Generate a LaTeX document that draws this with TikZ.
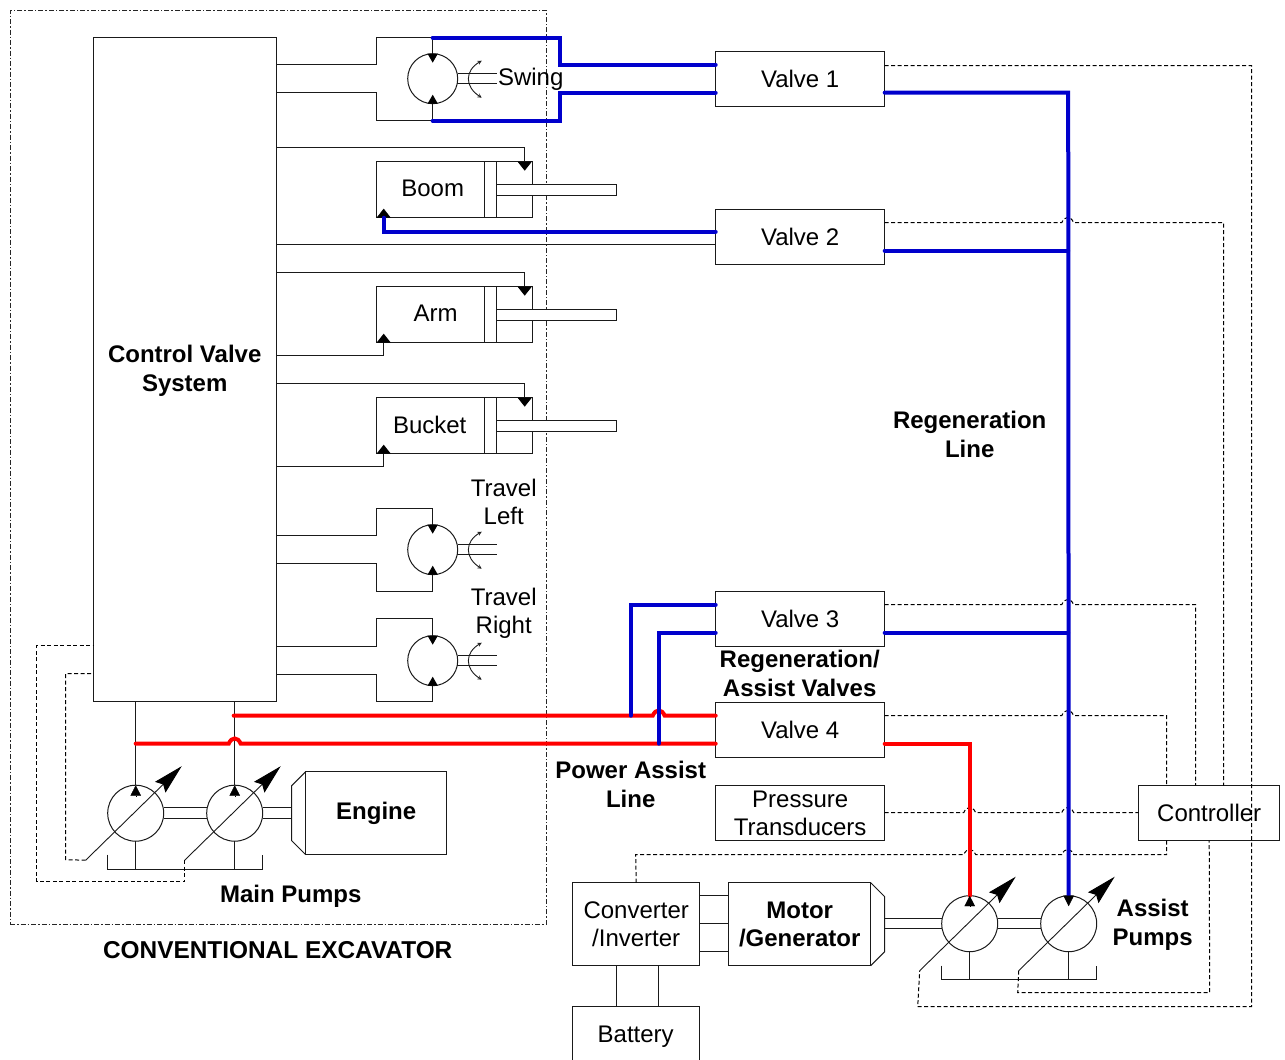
\documentclass[tikz,border=0pt]{standalone}
\usepackage{fontspec}
\usepackage{xcolor}
\usepackage{tikz}
\usetikzlibrary{arrows.meta}
\setmainfont{Liberation Sans}
\definecolor{regen}{HTML}{0000CC}
\definecolor{assist}{HTML}{FF0000}
\definecolor{wire}{HTML}{1A1A1A}
\newcommand{\hopx}[2]{-- (#1-6,#2) .. controls (#1-3,#2-7) and (#1+3,#2-7) .. (#1+6,#2)}
\tikzset{
  box/.style={draw=wire,line width=1pt,anchor=north west,inner sep=0pt,outer sep=0pt,align=center},
  tag/.style={inner sep=0pt,align=center},
  bold/.style={tag,font=\fontsize{24}{29}\selectfont\bfseries},
  wheel/.style={draw=wire,line width=1pt,circle,inner sep=0pt,outer sep=0pt,fill=white},
  pipe/.style={draw=wire,line width=1pt},
  ctl/.style={draw=black,line width=1pt,dash pattern=on 4pt off 2.5pt},
  edge frame/.style={draw=black!85,line width=1pt,dash pattern=on 5pt off 2pt on 1.5pt off 2pt},
  blueline/.style={regen,line width=4pt,line cap=round},
  redline/.style={assist,line width=4pt,line cap=round},
  tiny tip/.style={-{Triangle[length=9pt,width=10pt,black]}},
  wide tip/.style={-{Triangle[length=9pt,width=14pt,black]}},
  pump tip/.style={-{Triangle[length=10.5pt,width=10.5pt,black]}},
}
\begin{document}
\begin{tikzpicture}[x=1pt,y=-1pt,>=stealth,font=\fontsize{24}{28}\selectfont]
\clip (0,0) rectangle (1285,1060);
\fill[white] (0,0) rectangle (1285,1060);
\begin{scope}[shift={(-0.3,-0.3)}]
\node[edge frame,anchor=north west,inner sep=0pt,minimum width=536,minimum height=914] (excavator) at (10,10) {};
\node[box,minimum width=183,minimum height=664] (ctrl) at (94,38) {};
\node[bold] (ctrltext) at (185,371) {Control Valve\\System};
\foreach \n/\y in {1/52,2/210,3/592,4/703}
  \node[box,minimum width=169,minimum height=55] (valve\n) at (716,\y) {\raisebox{1.4pt}{Valve \n}};
\node[box,minimum width=169,minimum height=55] (press) at (716,786) {Pressure\\Transducers};
\node[box,minimum width=141,minimum height=55] (controller) at (1139,786) {\raisebox{1.4pt}{Controller}};
\node[box,minimum width=127,minimum height=83] (conv) at (573,883) {Converter\\/Inverter};
\node[box,minimum width=142,minimum height=83,font=\fontsize{24}{28}\selectfont\bfseries] (motor) at (729,883) {Motor\\/Generator};
\node[box,minimum width=127,minimum height=66] (batt) at (573,1007) {};
\node[tag] (batttext) at (636,1037) {Battery};
\node[box,minimum width=141,minimum height=83,font=\fontsize{24}{28}\selectfont\bfseries] (engine) at (306,772) {\raisebox{-2pt}{Engine}};
\draw[pipe] (engine.north west) -- (292,786) -- (292,841) -- (engine.south west);
\draw[pipe] (motor.north east) -- (885,897) -- (885,952) -- (motor.south east);
\foreach \y in {896,924,952} \draw[pipe] (conv.east |- 0,\y) -- (motor.west |- 0,\y);
\foreach \x in {617,659} \draw[pipe] (\x,966) -- (\x,1007);
% cylinders
\foreach \n/\y/\l/\t in {boom/162/433/Boom,arm/287/436/Arm,bucket/398/430/Bucket} {
  \node[box,minimum width=156,minimum height=56] (\n) at (377,\y) {};
  \node[tag] (\n text) at (\l,\y+27) {\t};
  \draw[pipe] (485,\y) rectangle (497,\y+56);
  \draw[pipe,fill=white] (497,\y+23) rectangle (617,\y+34);
}
\draw[pipe,wide tip] (ctrl.east |- 0,148) -- (525,148) -- (525,171);
\draw[pipe,wide tip] (ctrl.east |- 0,273) -- (525,273) -- (525,296);
\draw[pipe,wide tip] (ctrl.east |- 0,384) -- (525,384) -- (525,407);
\draw[pipe,wide tip] (ctrl.east |- 0,356) -- (384,356) -- (384,334);
\draw[pipe,wide tip] (ctrl.east |- 0,467) -- (384,467) -- (384,445);
\draw[wide tip] (384,218) -- (384,209);
\draw[pipe] (ctrl.east |- 0,245) -- (valve2.west |- 0,245);
% motors
\foreach \n/\y/\u/\v in {swing/79/41/42,tleft/550/41/42,tright/661/42/41} {
  \node[wheel,minimum size=50] (\n) at (433,\y) {};
  \draw[pipe] (\n.east |- 0,\y-5) -- (497,\y-5);
  \draw[pipe] (\n.east |- 0,\y+5) -- (497,\y+5);
  \draw[pipe] (\n.east |- 0,\y-5) -- (\n.east |- 0,\y+5);
  \draw[wire,line width=0.9pt,<->] (482,\y-18) .. controls (465,\y-8) and (465,\y+8) .. (482,\y+19);
  \draw[pipe,tiny tip] (ctrl.east |- 0,\y-14) -- (377,\y-14) -- (377,\y-\u) -- (433,\y-\u) -- ([yshift=-9pt]\n.north);
  \draw[pipe,tiny tip] (ctrl.east |- 0,\y+14) -- (377,\y+14) -- (377,\y+\v) -- (433,\y+\v) -- ([yshift=9pt]\n.south);
}
\node[tag] (swingtext) at (531,80) {Swing};
\node[tag] (tlefttext) at (504,502.5) {Travel\\Left};
\node[tag] (trighttext) at (504,614) {Travel\\Right};
% pumps
\foreach \n/\x/\y in {mpa/136/813.5,mpb/235/813.5,apa/970/924,apb/1069/924} {
  \node[wheel,minimum size=56] (\n) at (\x,\y) {};
  \coordinate (\n tail) at (\x-50,\y+47);
  \coordinate (\n head) at (\x+46,\y-47);
  \draw[wire,line width=0.9pt,-{Stealth[length=30pt,width=15pt,inset=4pt,black]}] (\n tail) -- (\n head);
  \draw[pipe] (\n.south) -- (\x,\y+56);
}
\draw[pipe] (108,855) -- (108,869.5) -- (263,869.5) -- (263,855);
\draw[pipe] (942,966) -- (942,980) -- (1097,980) -- (1097,966);
\foreach \y in {808,819} {
  \draw[pipe] (mpa.east |- 0,\y) -- (mpb.west |- 0,\y);
  \draw[pipe] (mpb.east |- 0,\y) -- (292,\y);
}
\foreach \y in {919,929} {
  \draw[pipe] (885,\y) -- (apa.west |- 0,\y);
  \draw[pipe] (apa.east |- 0,\y) -- (apb.west |- 0,\y);
}
\draw[pipe] (mpa.north |- ctrl.south) -- (mpa.north);
\draw[pipe] (mpb.north |- ctrl.south) -- (mpb.north);
\draw[pump tip] ([yshift=-10.5pt]mpa.north) -- (mpa.north);
\draw[pump tip] ([yshift=-10.5pt]mpb.north) -- (mpb.north);
% control lines
\draw[ctl] (mpatail) -- (66,860) -- (66,674) -- (ctrl.west |- 0,674);
\draw[ctl] (mpbtail) -- (185,882) -- (37,882) -- (37,646) -- (ctrl.west |- 0,646);
\draw[ctl] (valve1.east |- 0,66) -- (1252,66) -- (1252,1007) -- (918,1007) -- (apatail);
\draw[ctl] (apbtail) -- (1018,993) -- (1210,993) -- (controller.south);
\draw[ctl] (valve2.east |- 0,223) \hopx{1068}{223} -- (1224,223) -- (controller.north -| 1224,0);
\draw[ctl] (valve3.east |- 0,605) \hopx{1068}{605} -- (1196,605) -- (controller.north -| 1196,0);
\draw[ctl] (valve4.east |- 0,716) \hopx{1068}{716} -- (1167,716) -- (controller.north -| 1167,0);
\draw[ctl] (press.east |- 0,813) \hopx{970}{813} \hopx{1068}{813} -- (controller.west |- 0,813);
\draw[ctl] (conv.north) -- (636,855) \hopx{970}{855} \hopx{1068}{855} -- (1167,855) -- (controller.south -| 1167,0);
% hydraulic lines
\draw[blueline] (433,38) -- (560,38) -- (560,65) -- (valve1.west |- 0,65);
\draw[blueline] (433,121) -- (560,121) -- (560,93) -- (valve1.west |- 0,93);
\draw[blueline] (384,218) -- (384,232) -- (valve2.west |- 0,232);
\draw[blueline] (valve1.east |- 0,93) -- (1068.5,93) -- (apb.north);
\draw[blueline] (valve2.east |- 0,251) -- (1068.5,251);
\draw[blueline] (valve3.east |- 0,633) -- (1068.5,633);
\draw[redline] (234,716) \hopx{659}{716} -- (valve4.west |- 0,716);
\draw[redline] (136,744) \hopx{235}{744} -- (valve4.west |- 0,744);
\draw[blueline] (valve3.west |- 0,605) -- (631,605) -- (631,716);
\draw[blueline] (valve3.west |- 0,633) -- (659,633) -- (659,744);
\draw[redline] (valve4.east |- 0,744) -- (970,744) -- (apa.north);
\draw[pump tip] ([yshift=-10.5pt]apa.north) -- (apa.north);
\draw[pump tip] (apb.north) -- ([yshift=-10.5pt]apb.north);
% labels
\node[bold] (mainpumps) at (291,897) {Main Pumps};
\node[bold,font=\fontsize{24.4}{29}\selectfont\bfseries] (exctext) at (278,950.3) {CONVENTIONAL EXCAVATOR};
\node[bold] (regentext) at (970,435) {Regeneration\\Line};
\node[bold] (valvetext) at (800,674) {Regeneration/\\Assist Valves};
\node[bold] (powertext) at (631,785) {Power Assist\\Line};
\node[bold] (assisttext) at (1153,925.5) {Assist\\Pumps};
\end{scope}
\end{tikzpicture}
\end{document}
